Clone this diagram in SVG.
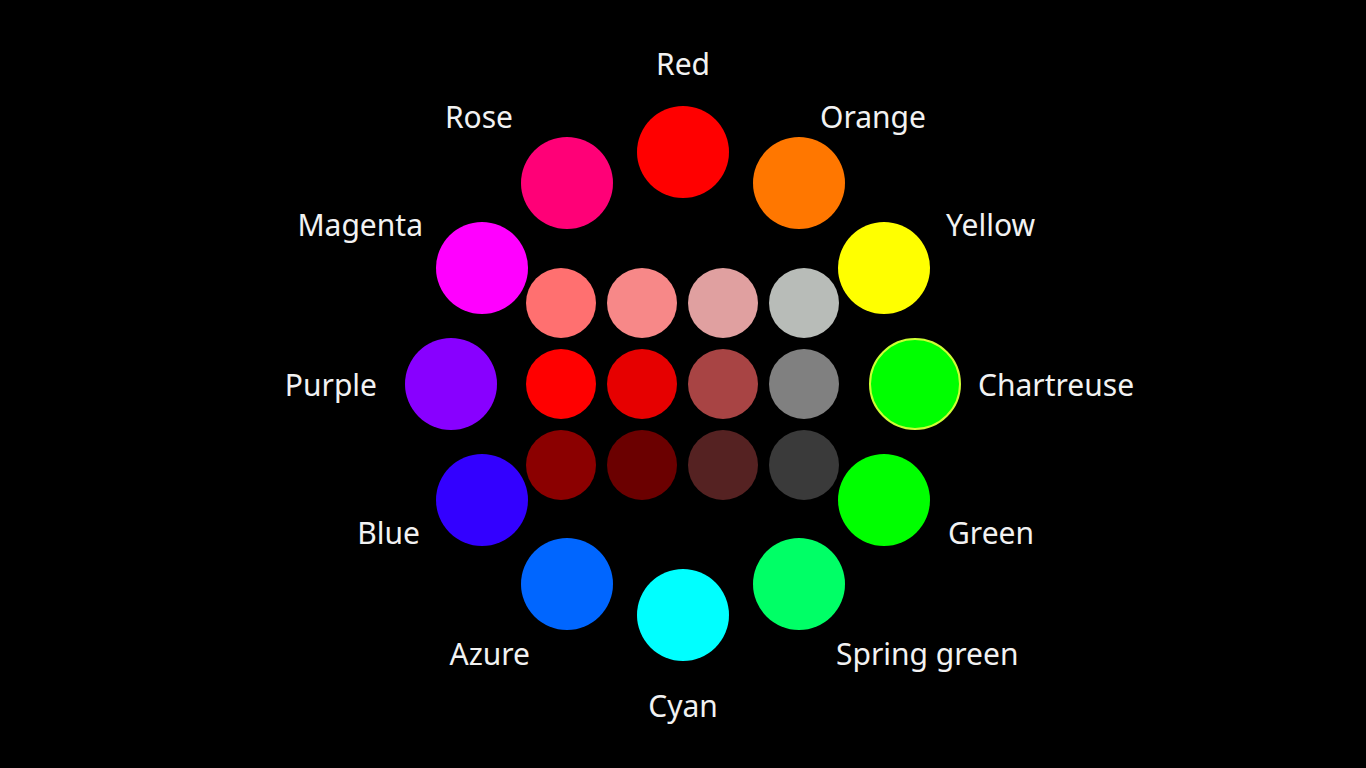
<svg xmlns="http://www.w3.org/2000/svg" width="1366" height="768" viewBox="0 0 1366 768">
<style>
text{font-family:"Noto Sans","Liberation Sans",sans-serif;font-size:30px;fill:#f2f2f2}
.s{text-anchor:end}.m{text-anchor:middle}
</style>
<rect width="1366" height="768" fill="#000"/>
<g id="outer">
<circle id="red" cx="683" cy="152" r="46" fill="#ff0000"/>
<circle id="orange" cx="799" cy="183" r="46" fill="#ff7700"/>
<circle id="yellow" cx="884" cy="268" r="46" fill="#ffff00"/>
<circle id="chartreuse" cx="915" cy="384" r="45" fill="#00ff00" stroke="#ccff33" stroke-width="2"/>
<circle id="green" cx="884" cy="500" r="46" fill="#00ff00"/>
<circle id="spring" cx="799" cy="584" r="46" fill="#00ff66"/>
<circle id="cyan" cx="683" cy="615" r="46" fill="#00ffff"/>
<circle id="azure" cx="567" cy="584" r="46" fill="#0066ff"/>
<circle id="blue" cx="482" cy="500" r="46" fill="#3300ff"/>
<circle id="purple" cx="451" cy="384" r="46" fill="#8800ff"/>
<circle id="magenta" cx="482" cy="268" r="46" fill="#ff00ff"/>
<circle id="rose" cx="567" cy="183" r="46" fill="#ff0077"/>
</g>
<g id="grid">
<circle cx="561" cy="303" r="35" fill="#ff7070"/>
<circle cx="642" cy="303" r="35" fill="#f78888"/>
<circle cx="723" cy="303" r="35" fill="#e0a0a0"/>
<circle cx="804" cy="303" r="35" fill="#b8bcb8"/>
<circle cx="561" cy="384" r="35" fill="#ff0000"/>
<circle cx="642" cy="384" r="35" fill="#e60000"/>
<circle cx="723" cy="384" r="35" fill="#a84444"/>
<circle cx="804" cy="384" r="35" fill="#808080"/>
<circle cx="561" cy="465" r="35" fill="#8b0000"/>
<circle cx="642" cy="465" r="35" fill="#6b0000"/>
<circle cx="723" cy="465" r="35" fill="#552222"/>
<circle cx="804" cy="465" r="35" fill="#3a3a3a"/>
</g>
<g id="labels">
<text class="m" x="683" y="75">Red</text>
<text x="820" y="128">Orange</text>
<text class="s" x="513" y="128">Rose</text>
<text x="946" y="236">Yellow</text>
<text class="s" x="423" y="236">Magenta</text>
<text x="978" y="396">Chartreuse</text>
<text class="s" x="377" y="396">Purple</text>
<text x="948" y="544">Green</text>
<text class="s" x="420" y="544">Blue</text>
<text x="836" y="665">Spring green</text>
<text class="s" x="530" y="665">Azure</text>
<text class="m" x="683" y="717">Cyan</text>
</g>
</svg>
